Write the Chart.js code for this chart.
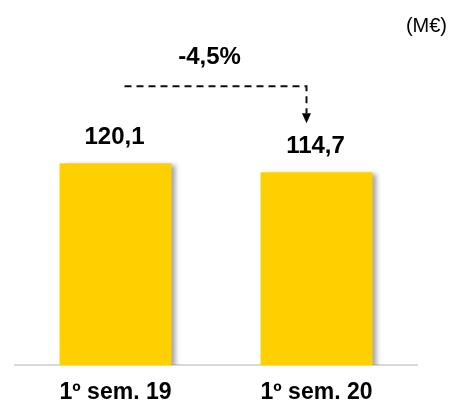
<!DOCTYPE html>
<html>
<head>
<meta charset="utf-8">
<script src="https://cdn.jsdelivr.net/npm/chart.js@4.4.1/dist/chart.umd.min.js"></script>
<style>
  html, body { margin: 0; padding: 0; background: #fff; }
  #wrap { width: 449px; height: 403px; }
</style>
</head>
<body>
<div id="wrap"><canvas id="chart" width="449" height="403"></canvas></div>
<script>
// Chart data
var categories = ['1º sem. 19', '1º sem. 20'];
var revenue = [120.1, 114.7];
var changeLabel = '-4,5%';
var unitLabel = '(M€)';

var FONT = '"Liberation Sans", Arial, sans-serif';
var BAR_COLOR = '#FFD000';

function formatValue(v) {
    return v.toFixed(1).replace('.', ',');
}

// soft grey shadow to the right of the bars
var barShadow = {
    id: 'barShadow',
    beforeDatasetsDraw: function(chart) {
        var ctx = chart.ctx;
        ctx.save();
        ctx.shadowColor = 'rgba(0,0,0,0.35)';
        ctx.shadowBlur = 5;
        ctx.shadowOffsetX = 5;
        ctx.shadowOffsetY = 2;
    },
    afterDatasetsDraw: function(chart) {
        chart.ctx.restore();
    }
};

// value labels, variation arrow and unit
var annotations = {
    id: 'annotations',
    afterDraw: function(chart) {
        var ctx = chart.ctx;
        var bars = chart.getDatasetMeta(0).data;
        ctx.save();
        ctx.fillStyle = '#000';
        ctx.textAlign = 'center';
        ctx.textBaseline = 'middle';
        ctx.font = 'bold 24px ' + FONT;
        bars.forEach(function(bar, i) {
            ctx.fillText(formatValue(revenue[i]), bar.x - 1, bar.y - 26);
        });

        // dashed elbow arrow from first bar to second
        var lineY = bars[0].y - 77;
        var x1 = bars[0].x + 9;
        var x2 = bars[1].x - 10;
        var tipY = bars[1].y - 49;
        ctx.strokeStyle = '#111';
        ctx.lineWidth = 2;
        ctx.setLineDash([7, 5]);
        ctx.beginPath();
        ctx.moveTo(x1, lineY);
        ctx.lineTo(x2, lineY);
        ctx.lineTo(x2, tipY - 10);
        ctx.stroke();
        ctx.setLineDash([]);
        ctx.beginPath();
        ctx.moveTo(x2 - 4.5, tipY - 10);
        ctx.lineTo(x2 + 4.5, tipY - 10);
        ctx.lineTo(x2, tipY);
        ctx.closePath();
        ctx.fill();

        ctx.font = 'bold 24px ' + FONT;
        ctx.fillText(changeLabel, (x1 + x2) / 2 - 6, lineY - 29);

        ctx.font = '20px ' + FONT;
        ctx.textAlign = 'right';
        ctx.fillText(unitLabel, 447, 26);
        ctx.restore();
    }
};

new Chart(document.getElementById('chart'), {
    type: 'bar',
    data: {
        labels: categories,
        datasets: [{
            data: revenue,
            backgroundColor: BAR_COLOR,
            borderWidth: 0,
            categoryPercentage: 1,
            barPercentage: 0.557
        }]
    },
    options: {
        responsive: false,
        animation: false,
        devicePixelRatio: 1,
        layout: { padding: { left: 15, right: 32, top: 29, bottom: -17 } },
        plugins: { legend: { display: false }, tooltip: { enabled: false } },
        scales: {
            y: { display: false, min: 0, max: 200 },
            x: {
                grid: { display: false, drawTicks: false },
                border: { display: true, color: '#d9d9d9', width: 2 },
                ticks: {
                    color: '#000',
                    padding: 16,
                    font: { family: FONT, size: 23, weight: 'bold', lineHeight: 1 }
                }
            }
        }
    },
    plugins: [barShadow, annotations]
});
</script>
</body>
</html>
